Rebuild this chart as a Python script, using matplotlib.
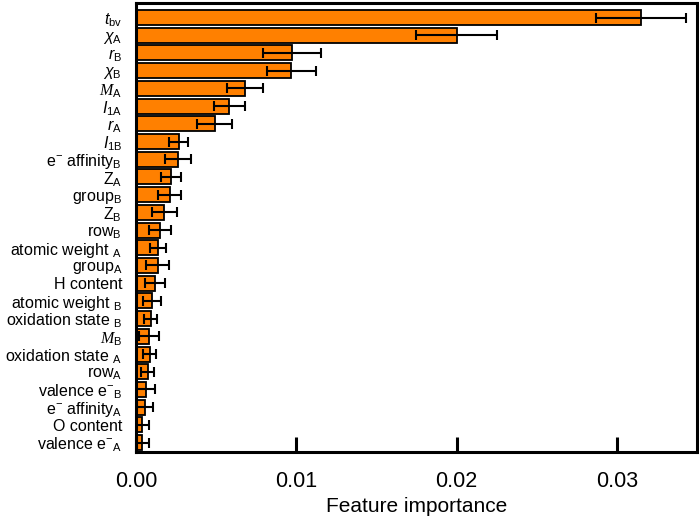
import matplotlib
matplotlib.use("Agg")
import matplotlib.pyplot as plt

plt.rcParams['font.family'] = ['Liberation Sans', 'DejaVu Sans']
plt.rcParams['mathtext.fontset'] = 'custom'
plt.rcParams['mathtext.rm'] = 'Liberation Sans'
plt.rcParams['mathtext.it'] = 'Liberation Sans:italic'
plt.rcParams['mathtext.cal'] = 'Liberation Serif:italic'

labels = [
    r'$t_{\mathrm{bv}}$', r'$\chi_{\mathrm{A}}$', r'$r_{\mathrm{B}}$', r'$\chi_{\mathrm{B}}$',
    r'$\mathcal{M}_{\mathrm{A}}$', r'$I_{\mathrm{1A}}$', r'$r_{\mathrm{A}}$', r'$I_{\mathrm{1B}}$',
    r'e$^{-}$ affinity$_{\mathrm{B}}$', r'Z$_{\mathrm{A}}$', r'group$_{\mathrm{B}}$', r'Z$_{\mathrm{B}}$',
    r'row$_{\mathrm{B}}$', r'atomic weight $_{\mathrm{A}}$', r'group$_{\mathrm{A}}$', 'H content',
    r'atomic weight $_{\mathrm{B}}$', r'oxidation state $_{\mathrm{B}}$', r'$\mathcal{M}_{\mathrm{B}}$',
    r'oxidation state $_{\mathrm{A}}$', r'row$_{\mathrm{A}}$', r'valence e$^{-}$$_{\mathrm{B}}$',
    r'e$^{-}$ affinity$_{\mathrm{A}}$', 'O content', r'valence e$^{-}$$_{\mathrm{A}}$',
]
importance = [0.0315, 0.0200, 0.00975, 0.0097, 0.0068, 0.00583, 0.00492, 0.00267,
              0.00262, 0.00217, 0.0021, 0.00177, 0.00148, 0.0014, 0.00135, 0.00119,
              0.00098, 0.00092, 0.00081, 0.00085, 0.00073, 0.0006, 0.00054, 0.0004, 0.0004]
errors = [0.0028, 0.0025, 0.0018, 0.0015, 0.0011, 0.00094, 0.0011, 0.0006,
          0.0008, 0.00062, 0.0007, 0.0008, 0.0007, 0.0005, 0.0007, 0.0006,
          0.00055, 0.0004, 0.0006, 0.0004, 0.0004, 0.0006, 0.0005, 0.0004, 0.0004]
xticks = [0.0, 0.01, 0.02, 0.03]
xticklabels = ['0.00', '0.01', '0.02', '0.03']

fig = plt.figure(figsize=(6.99, 5.20), dpi=100)
ax = fig.add_axes([0.1946, 0.1308, 0.8024, 0.8634])

y = list(range(len(labels)))
ax.barh(y, importance, height=0.85, color='#FF8000', edgecolor='black', linewidth=1.3,
        xerr=errors, error_kw=dict(ecolor='black', elinewidth=1.5, capsize=3.5, capthick=1.5))
ax.set_yticks(y)
ax.set_yticklabels(labels, fontsize=11.5)
ax.set_ylim(len(labels) - 1 + 0.53, -0.82)
ax.set_xlim(0, 0.035)
ax.set_xticks(xticks)
ax.set_xticklabels(xticklabels, fontsize=15.5)
ax.tick_params(axis='x', direction='in', length=11, width=2.2, pad=14)
ax.tick_params(axis='y', length=0, pad=10)
ax.set_xlabel('Feature importance', fontsize=15, labelpad=3)
for s in ax.spines.values():
    s.set_linewidth(2.2)

fig.savefig('out.png', dpi=100)
